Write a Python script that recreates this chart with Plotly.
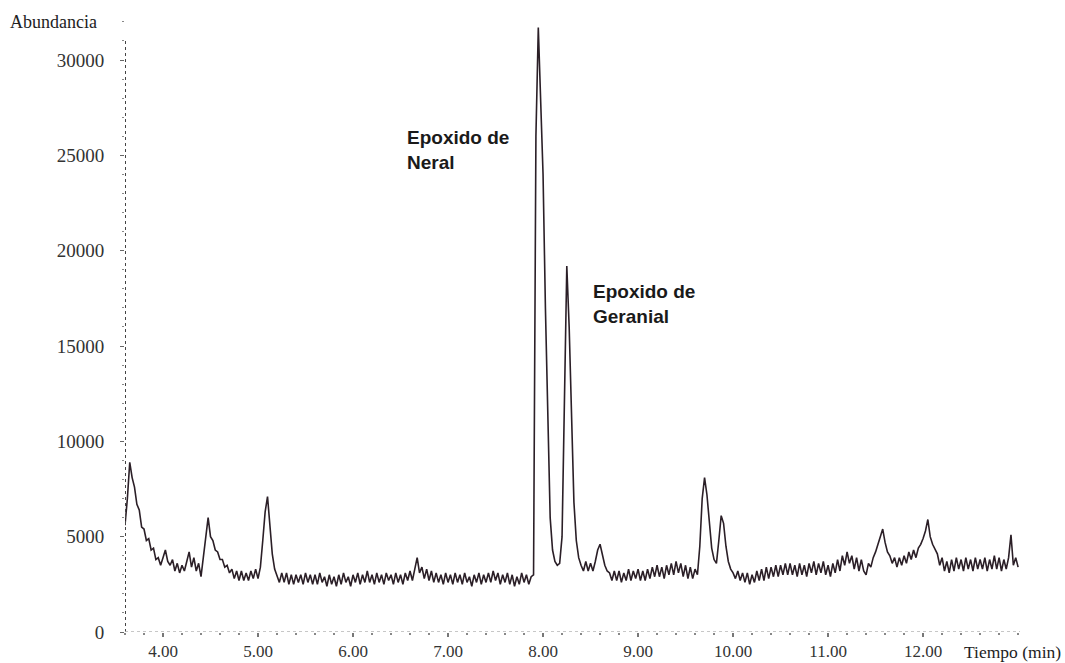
import numpy as np
import plotly.graph_objects as go

# Chromatogram: abundance sampled every 0.025 min from 3.600 to 13.000 min
T_START = 3.6
T_STEP = 0.025
abundance = [
    # 3.600 - 4.075
    5600, 7000, 8900, 8100, 7600, 6700, 6400, 5500, 5400, 4800, 4900, 4300, 4400, 3800, 3900, 3500, 3900, 4300, 3700, 3500,
    # 4.100 - 4.575
    3800, 3200, 3600, 3100, 3500, 3200, 3700, 4200, 3400, 3900, 3200, 3600, 2900, 3900, 5200, 6000, 5000, 4800, 4300, 4200,
    # 4.600 - 5.075
    3800, 3800, 3400, 3500, 3100, 3300, 2800, 3200, 2700, 3200, 2700, 3100, 2700, 3200, 2800, 3300, 2800, 3400, 4800, 6300,
    # 5.100 - 5.575
    7100, 5500, 4100, 3300, 3000, 2600, 3100, 2600, 3100, 2500, 3000, 2500, 3000, 2600, 3000, 2500, 3100, 2600, 3000, 2500,
    # 5.600 - 6.075
    3000, 2500, 3100, 2600, 2900, 2400, 3000, 2500, 2900, 2400, 3000, 2500, 3100, 2600, 2900, 2400, 3000, 2600, 3100, 2500,
    # 6.100 - 6.575
    3000, 2600, 3200, 2600, 3000, 2500, 3100, 2600, 3000, 2500, 3100, 2700, 3000, 2500, 3100, 2600, 3000, 2500, 3100, 2700,
    # 6.600 - 7.075
    3200, 2700, 3300, 3900, 3100, 3400, 2800, 3300, 2700, 3200, 2600, 3100, 2600, 3000, 2500, 3100, 2600, 3000, 2500, 3100,
    # 7.100 - 7.575
    2600, 3000, 2500, 3100, 2600, 2900, 2400, 3000, 2600, 3100, 2500, 3000, 2600, 3100, 2600, 3200, 2700, 3100, 2500, 3000,
    # 7.600 - 8.075 (Epoxido de Neral)
    2600, 3100, 2500, 3000, 2400, 2900, 2500, 3100, 2600, 3000, 2500, 2900, 3000, 26000, 31700, 27500, 24000, 17000, 10500, 6000,
    # 8.100 - 8.575 (Epoxido de Geranial)
    4300, 3700, 3500, 3600, 5000, 12000, 19200, 16000, 11000, 6800, 4800, 3900, 3500, 3200, 3700, 3200, 3600, 3200, 3700, 4300,
    # 8.600 - 9.075
    4600, 4000, 3500, 3200, 3100, 2700, 3200, 2700, 3200, 2600, 3100, 2700, 3300, 2700, 3200, 2800, 3300, 2700, 3200, 2700,
    # 9.100 - 9.575
    3300, 2800, 3400, 2900, 3500, 2900, 3400, 2800, 3500, 3000, 3600, 3000, 3700, 3100, 3600, 2900, 3500, 2800, 3400, 2800,
    # 9.600 - 10.075
    3300, 3000, 4500, 7000, 8100, 7200, 5600, 4400, 3800, 3600, 4800, 6100, 5700, 4500, 3700, 3300, 3100, 2800, 3200, 2700,
    # 10.100 - 10.575
    3100, 2600, 3100, 2500, 3000, 2600, 3200, 2700, 3300, 2700, 3400, 2800, 3400, 2900, 3500, 2900, 3500, 3000, 3600, 3000,
    # 10.600 - 11.075
    3600, 3000, 3500, 2900, 3600, 3000, 3500, 2900, 3600, 3100, 3700, 3000, 3600, 3100, 3700, 3000, 3500, 2900, 3600, 3100,
    # 11.100 - 11.575
    3800, 3200, 4000, 3500, 4200, 3600, 4000, 3300, 3900, 3200, 3800, 3200, 3000, 3600, 3400, 3900, 4200, 4600, 5000, 5400,
    # 11.600 - 12.075
    4700, 4200, 4000, 3600, 3900, 3400, 3900, 3500, 4000, 3600, 4200, 3800, 4300, 3900, 4400, 4600, 4900, 5300, 5900, 5000,
    # 12.100 - 12.575
    4600, 4300, 4100, 3500, 3900, 3200, 3700, 3100, 3800, 3200, 3900, 3300, 3800, 3200, 3900, 3300, 3800, 3200, 3900, 3300,
    # 12.600 - 13.000
    3800, 3300, 3900, 3200, 3800, 3300, 4000, 3300, 3900, 3200, 3800, 3300, 3900, 5100, 3500, 3900, 3400,
]
tiempo = T_START + T_STEP * np.arange(len(abundance))

x_ticks = [4, 5, 6, 7, 8, 9, 10, 11, 12]
y_ticks = [0, 5000, 10000, 15000, 20000, 25000, 30000]

peak_labels = ["Epoxido de<br>Neral", "Epoxido de<br>Geranial"]
peak_label_t = [6.547, 8.505]
peak_label_a = [25280, 17230]

SERIF = "Liberation Serif, Times New Roman, serif"
SANS = "Liberation Sans, Arial, sans-serif"

fig = go.Figure()
fig.add_trace(go.Scatter(
    x=tiempo, y=abundance, mode="lines",
    line=dict(color="#2b1f27", width=1.6),
    hoverinfo="skip", showlegend=False,
))

for txt, t, a in zip(peak_labels, peak_label_t, peak_label_a):
    fig.add_annotation(
        x=t, y=a, xref="x", yref="y", text=txt, showarrow=False,
        xanchor="left", yanchor="middle", align="left",
        font=dict(family=SANS, size=19, color="#1a1a1a", weight="bold"),
    )

# axis titles placed at the axis ends
fig.add_annotation(
    x=-0.131, y=0.997, xref="paper", yref="paper", text="Abundancia",
    showarrow=False, xanchor="left", yanchor="middle",
    font=dict(family=SERIF, size=18, color="#222222"),
)
fig.add_annotation(
    x=0.935, y=-0.033, xref="paper", yref="paper", text="Tiempo (min)",
    showarrow=False, xanchor="left", yanchor="middle",
    font=dict(family=SERIF, size=17.5, color="#222222"),
)

# dotted axis lines
fig.add_shape(
    type="line", xref="x", yref="y", x0=3.6, x1=3.6, y0=0, y1=31000,
    line=dict(color="#444444", width=2, dash="dot"),
)
fig.add_shape(
    type="line", xref="x", yref="y", x0=3.6, x1=13.02, y0=0, y1=0,
    line=dict(color="#b5b5b5", width=1.5, dash="dot"),
)

fig.update_layout(
    width=1065, height=663,
    margin=dict(l=125, r=45, t=20, b=31),
    paper_bgcolor="white", plot_bgcolor="white",
    xaxis=dict(
        range=[3.6, 13.02], tickvals=x_ticks, tickformat=".2f",
        showgrid=False, zeroline=False, showline=False, automargin=False,
        ticks="outside", ticklen=4, tickcolor="#777777", tickwidth=1.5,
        minor=dict(dtick=0.2, ticks="outside", ticklen=2, tickcolor="#888888", tickwidth=1.5),
        tickfont=dict(family=SERIF, size=17, color="#333333"),
        ticklabelstandoff=0,
    ),
    yaxis=dict(
        range=[0, 32100], tickvals=y_ticks, tickformat="d",
        showgrid=False, zeroline=False, showline=False, automargin=False,
        ticks="outside", ticklen=4, tickcolor="#666666",
        minor=dict(dtick=1000, ticks="outside", ticklen=2, tickcolor="#888888"),
        tickfont=dict(family=SERIF, size=19, color="#333333"),
        ticklabelstandoff=12,
    ),
)

fig.write_html("out.html")
